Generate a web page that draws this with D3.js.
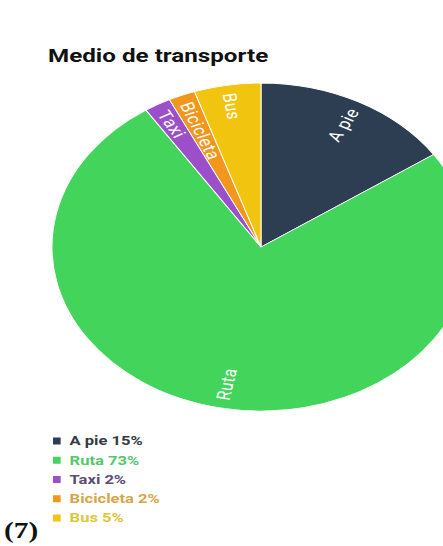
<!DOCTYPE html>
<html>
<head>
<meta charset="utf-8">
<script src="https://cdn.jsdelivr.net/npm/d3@7"></script>
<style>
  html, body { margin: 0; padding: 0; background: #fff; }
  svg { display: block; }
</style>
</head>
<body>
<svg id="chart" width="443" height="546"></svg>
<script>
// Transport mode shares (percent)
const categories = ["A pie", "Ruta", "Taxi", "Bicicleta", "Bus"];
const shares = [15, 73, 2, 2, 5];
const sliceColors = ["#2d3e52", "#43d55b", "#9b4fc9", "#f2961c", "#f1c40f"];
const legendTextColors = ["#333a44", "#55c86a", "#5d4c78", "#d6a64a", "#dcc63c"];
const title = "Medio de transporte";
const figureTag = "(7)";

const svg = d3.select("#chart");

// The chart is drawn in a horizontally widened frame
const sx = 209 / 164;
const R = 164;
const cx = 261 / sx, cy = 247;

const frame = svg.append("g").attr("transform", `scale(${sx},1)`);

frame.append("text")
  .attr("x", 48 / sx).attr("y", 62)
  .attr("font-family", "Roboto, 'Liberation Sans', Arial, sans-serif")
  .attr("font-weight", 700)
  .attr("font-size", 19)
  .attr("fill", "#111")
  .text(title);

const data = categories.map((c, i) => ({ name: c, value: shares[i], color: sliceColors[i], textColor: legendTextColors[i] }));

const pie = d3.pie().sort(null).value(d => d.value);
const arc = d3.arc().innerRadius(0).outerRadius(R);
const arcs = pie(data);

const pieG = frame.append("g").attr("transform", `translate(${cx},${cy})`);

pieG.selectAll("path.slice")
  .data(arcs)
  .join("path")
  .attr("class", "slice")
  .attr("d", arc)
  .attr("fill", d => d.data.color)
  .attr("stroke", "#fff")
  .attr("stroke-width", 0.8);

// Radial labels, anchored near the rim
const labelR = R * 0.95;
pieG.selectAll("text.lbl")
  .data(arcs)
  .join("text")
  .attr("class", "lbl")
  .each(function(d) {
    const a = (d.startAngle + d.endAngle) / 2;
    const x = labelR * Math.sin(a), y = -labelR * Math.cos(a);
    let deg = Math.atan2(-Math.cos(a), Math.sin(a)) * 180 / Math.PI;
    const right = Math.sin(a) >= 0;
    if (!right) deg += 180;
    d3.select(this)
      .attr("transform", `translate(${x},${y}) rotate(${deg})`)
      .attr("text-anchor", right ? "end" : "start");
  })
  .attr("dominant-baseline", "central")
  .attr("font-family", "Roboto, 'Liberation Sans', Arial, sans-serif")
  .attr("font-size", 15)
  .attr("letter-spacing", 0.4)
  .attr("fill", "#fff")
  .text(d => d.data.name);

// Legend
const legend = frame.append("g").attr("transform", `translate(${53 / sx},0)`);
const rowY = d3.scaleLinear().domain([0, categories.length - 1]).range([441, 518]);

const rows = legend.selectAll("g.row")
  .data(data)
  .join("g")
  .attr("class", "row")
  .attr("transform", (d, i) => `translate(0,${rowY(i)})`);

rows.append("rect")
  .attr("x", 0).attr("y", -3.5)
  .attr("width", 6).attr("height", 7)
  .attr("fill", d => d.color);

rows.append("text")
  .attr("x", 13).attr("y", 0)
  .attr("dominant-baseline", "central")
  .attr("font-family", "Roboto, 'Liberation Sans', Arial, sans-serif")
  .attr("font-weight", 700)
  .attr("font-size", 13)
  .attr("fill", d => d.textColor)
  .text(d => `${d.name} ${d.value}%`);

frame.append("text")
  .attr("x", 4 / sx).attr("y", 538)
  .attr("font-family", "'Liberation Serif', 'Times New Roman', serif")
  .attr("font-weight", 700)
  .attr("font-size", 23)
  .attr("fill", "#111")
  .text(figureTag);
</script>
</body>
</html>
